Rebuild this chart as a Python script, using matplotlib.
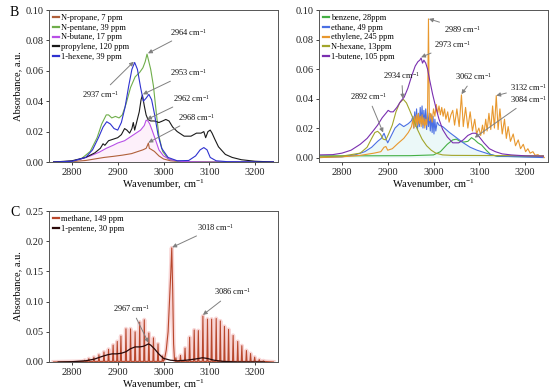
import matplotlib
matplotlib.use("Agg")
import matplotlib.pyplot as plt

plt.rcParams['font.family'] = ['Liberation Serif', 'DejaVu Serif']
plt.rcParams['mathtext.fontset'] = 'custom'
plt.rcParams['mathtext.rm'] = 'Liberation Serif'
plt.rcParams['mathtext.it'] = 'Liberation Serif:italic'
plt.rcParams['mathtext.bf'] = 'Liberation Serif:bold'

# ---------------- Panel B (left top) ----------------
propane_cm = [2760, 2800, 2830, 2850, 2870, 2890, 2910, 2930, 2945, 2955, 2962, 2965, 2967, 2969, 2972, 2980, 2990, 3000, 3015, 3040, 3100, 3240]
propane_abs = [0, 0.0003, 0.001, 0.002, 0.003, 0.0037, 0.0045, 0.0055, 0.007, 0.008, 0.009, 0.011, 0.0125, 0.009, 0.0085, 0.007, 0.004, 0.002, 0.0008, 0.0002, 0, 0]

pentane_cm = [2760, 2800, 2820, 2840, 2855, 2865, 2875, 2880, 2887, 2895, 2903, 2910, 2918, 2928, 2938, 2948, 2955, 2960, 2964, 2968, 2972, 2978, 2984, 2990, 2998, 3010, 3030, 3100, 3240]
pentane_abs = [0, 0.0003, 0.002, 0.007, 0.016, 0.025, 0.031, 0.031, 0.029, 0.030, 0.029, 0.031, 0.038, 0.049, 0.056, 0.059, 0.062, 0.066, 0.071, 0.066, 0.061, 0.050, 0.033, 0.017, 0.007, 0.002, 0.0005, 0, 0]

butane_cm = [2760, 2800, 2820, 2840, 2860, 2875, 2890, 2900, 2915, 2930, 2940, 2950, 2958, 2962, 2966, 2970, 2975, 2982, 2990, 3000, 3015, 3040, 3100, 3240]
butane_abs = [0, 0.0005, 0.002, 0.004, 0.0065, 0.009, 0.011, 0.0125, 0.014, 0.017, 0.019, 0.021, 0.024, 0.0275, 0.027, 0.025, 0.021, 0.015, 0.008, 0.004, 0.0015, 0.0003, 0, 0]

propylene_cm = [2760, 2800, 2830, 2850, 2862, 2868, 2872, 2880, 2890, 2900, 2908, 2915, 2920, 2926, 2931, 2934, 2937, 2942, 2947, 2951, 2954, 2958, 2962, 2966, 2972, 2980, 2990, 2998, 3005, 3012, 3020, 3030, 3045, 3060, 3072, 3082, 3088, 3092, 3097, 3102, 3106, 3112, 3120, 3135, 3150, 3170, 3200, 3240]
propylene_abs = [0, 0.0008, 0.003, 0.006, 0.009, 0.012, 0.011, 0.014, 0.015, 0.016, 0.018, 0.022, 0.021, 0.019, 0.022, 0.026, 0.021, 0.027, 0.033, 0.041, 0.044, 0.037, 0.031, 0.028, 0.027, 0.027, 0.026, 0.027, 0.028, 0.027, 0.023, 0.020, 0.017, 0.017, 0.019, 0.019, 0.020, 0.016, 0.020, 0.021, 0.019, 0.015, 0.010, 0.005, 0.003, 0.0015, 0.0005, 0]

hexene1_cm = [2760, 2800, 2830, 2845, 2858, 2868, 2876, 2884, 2892, 2900, 2908, 2916, 2924, 2931, 2937, 2943, 2950, 2956, 2962, 2968, 2974, 2980, 2988, 2996, 3010, 3030, 3055, 3070, 3080, 3088, 3095, 3102, 3115, 3140, 3240]
hexene1_abs = [0, 0.0005, 0.003, 0.008, 0.016, 0.023, 0.0265, 0.025, 0.022, 0.021, 0.026, 0.036, 0.050, 0.061, 0.0655, 0.061, 0.049, 0.040, 0.042, 0.0445, 0.041, 0.032, 0.018, 0.009, 0.003, 0.0008, 0.001, 0.004, 0.008, 0.0095, 0.008, 0.003, 0.0008, 0.0002, 0]

# ---------------- Right top panel ----------------
benzene_cm = [2750, 2850, 2950, 3000, 3015, 3030, 3042, 3050, 3058, 3066, 3075, 3083, 3090, 3097, 3105, 3115, 3125, 3140, 3240]
benzene_abs = [0.0012, 0.0012, 0.0013, 0.0018, 0.004, 0.009, 0.012, 0.0125, 0.011, 0.0105, 0.011, 0.0135, 0.012, 0.010, 0.0085, 0.005, 0.002, 0.0008, 0.0005]

ethane_cm = [2750, 2800, 2830, 2850, 2865, 2878, 2886, 2892, 2896, 2900, 2908, 2916, 2926, 2935, 2945, 2952,
             2955, 2957, 2959, 2961, 2963, 2965, 2967, 2969, 2971, 2973, 2975, 2977, 2979, 2981, 2983, 2985,
             2987, 2989, 2991, 2993, 2995, 2997, 2999, 3001, 3003, 3005, 3008, 3012,
             3020, 3035, 3050, 3065, 3080, 3095, 3110, 3125, 3140, 3240]
ethane_abs = [0, 0.0005, 0.002, 0.004, 0.007, 0.011, 0.013, 0.0165, 0.013, 0.010, 0.015, 0.020, 0.023, 0.021, 0.023, 0.025,
              0.028, 0.020, 0.031, 0.022, 0.033, 0.019, 0.030, 0.021, 0.034, 0.023, 0.035, 0.020, 0.032, 0.022, 0.033, 0.019,
              0.031, 0.021, 0.030, 0.018, 0.029, 0.017, 0.028, 0.016, 0.026, 0.018, 0.024, 0.022,
              0.021, 0.017, 0.0135, 0.010, 0.007, 0.005, 0.0035, 0.002, 0.001, 0]

ethylene_cm = [2750, 2800, 2840, 2870, 2885, 2892, 2896, 2900, 2910, 2922, 2935, 2945, 2952,
               2955, 2957, 2959, 2961, 2963, 2965, 2967, 2969, 2971, 2973, 2975, 2977, 2979, 2981, 2983, 2985, 2987,
               2989, 2991, 2994, 2997, 3000, 3003, 3006, 3009, 3012, 3015, 3018, 3021, 3024, 3027,
               3031, 3034, 3038, 3042, 3046, 3051, 3056, 3061, 3065, 3070, 3075, 3080, 3085, 3090, 3094,
               3099, 3103, 3107, 3110, 3114, 3117, 3121, 3125, 3129, 3133, 3137, 3141, 3145, 3150, 3155,
               3159, 3163, 3168, 3174, 3179, 3185, 3190, 3196, 3201, 3206, 3211, 3217, 3222, 3228, 3233, 3238, 3242]
ethylene_abs = [0, 0.0005, 0.0015, 0.003, 0.004, 0.007, 0.0075, 0.005, 0.006, 0.0095, 0.013, 0.017, 0.021,
                0.026, 0.020, 0.028, 0.021, 0.029, 0.022, 0.030, 0.023, 0.028, 0.021, 0.029, 0.022, 0.027, 0.020, 0.026, 0.022, 0.030,
                0.094, 0.025, 0.030, 0.024, 0.033, 0.028, 0.036, 0.030, 0.035, 0.029, 0.034, 0.028, 0.033, 0.026,
                0.031, 0.024, 0.029, 0.032, 0.022, 0.033, 0.021, 0.0425, 0.021, 0.034, 0.020, 0.031, 0.018, 0.026, 0.016,
                0.020, 0.015, 0.022, 0.016, 0.026, 0.018, 0.030, 0.019, 0.035, 0.020, 0.042, 0.019, 0.033, 0.016, 0.026,
                0.013, 0.021, 0.011, 0.016, 0.008, 0.012, 0.006, 0.009, 0.004, 0.006, 0.003, 0.004, 0.0015, 0.002, 0.0008, 0.001, 0]

hexane_cm = [2750, 2800, 2840, 2855, 2865, 2872, 2878, 2884, 2890, 2896, 2902, 2910, 2918, 2926, 2934, 2941, 2948, 2956, 2965, 2975, 2985, 2995, 3005, 3020, 3040, 3240]
hexane_abs = [0.0005, 0.001, 0.003, 0.007, 0.013, 0.017, 0.0178, 0.016, 0.0125, 0.012, 0.016, 0.022, 0.031, 0.037, 0.0395, 0.037, 0.032, 0.026, 0.019, 0.0125, 0.008, 0.005, 0.003, 0.0018, 0.0015, 0.0012]

butene1_cm = [2750, 2780, 2800, 2820, 2840, 2855, 2868, 2878, 2888, 2896, 2901, 2906, 2912, 2920, 2928, 2936, 2944, 2952, 2960, 2966, 2970, 2973, 2976, 2979, 2983, 2987, 2992, 2998, 3005, 3012, 3020, 3030, 3042, 3055, 3065, 3075, 3085, 3092, 3100, 3110, 3122, 3135, 3150, 3170, 3200, 3240]
butene1_abs = [0.0018, 0.002, 0.003, 0.005, 0.009, 0.013, 0.018, 0.022, 0.027, 0.030, 0.032, 0.031, 0.031, 0.034, 0.038, 0.041, 0.047, 0.055, 0.062, 0.065, 0.066, 0.0675, 0.064, 0.066, 0.064, 0.060, 0.052, 0.043, 0.034, 0.026, 0.019, 0.014, 0.010, 0.010, 0.012, 0.015, 0.0165, 0.0165, 0.014, 0.010, 0.006, 0.004, 0.0025, 0.0018, 0.0012, 0.001]

# ---------------- Panel C ----------------
methane_P_cm = [2828, 2837, 2848, 2859, 2870, 2880, 2890, 2899, 2907, 2918, 2928, 2938, 2948, 2958, 2968, 2978, 2988, 2998]
methane_P_abs = [0.003, 0.0055, 0.008, 0.012, 0.0166, 0.021, 0.028, 0.034, 0.043, 0.055, 0.055, 0.050, 0.066, 0.070, 0.048, 0.040, 0.030, 0.010]
methane_Q_cm = [3002, 3006, 3010, 3013, 3016, 3018, 3020, 3022, 3024]
methane_Q_abs = [0.004, 0.02, 0.05, 0.10, 0.15, 0.189, 0.12, 0.03, 0.003]
methane_R_cm = [3027, 3037, 3047, 3057, 3067, 3076, 3086, 3096, 3105, 3115, 3124, 3133, 3142, 3152, 3162, 3171, 3181, 3190, 3199, 3209, 3218]
methane_R_abs = [0.007, 0.011, 0.023, 0.041, 0.053, 0.052, 0.076, 0.071, 0.071, 0.072, 0.068, 0.059, 0.054, 0.044, 0.034, 0.027, 0.019, 0.014, 0.008, 0.004, 0.002]
methane_base = 0.001

pentene1_cm = [2770, 2800, 2830, 2850, 2865, 2878, 2888, 2898, 2908, 2918, 2928, 2938, 2948, 2956, 2962, 2967, 2972, 2980, 2990, 3000, 3015, 3030, 3050, 3070, 3085, 3095, 3110, 3130, 3160, 3220]
pentene1_abs = [0, 0.0005, 0.002, 0.005, 0.009, 0.012, 0.0135, 0.0135, 0.0145, 0.017, 0.022, 0.025, 0.025, 0.026, 0.028, 0.030, 0.028, 0.022, 0.013, 0.006, 0.003, 0.002, 0.003, 0.005, 0.007, 0.006, 0.003, 0.001, 0, 0]

xticks = [2800, 2900, 3000, 3100, 3200]


def stick_trace(centers, heights, base, half):
    xs, ys = [], []
    for c, h in zip(centers, heights):
        xs += [c - half, c, c + half]
        ys += [base, h, base]
    return xs, ys


def style(ax, ylim, yticks, ylabel=True):
    ax.set_xlim(2750, 3250)
    ax.set_ylim(*ylim)
    ax.set_xticks(xticks)
    ax.set_yticks(yticks)
    ax.set_yticklabels([f"{v:.2f}" for v in yticks])
    ax.tick_params(direction='out', length=2.5, width=0.6, labelsize=7.5,
                   colors='#222222', pad=1.5, top=False, right=False)
    for s in ax.spines.values():
        s.set_linewidth(0.7)
        s.set_color('#555555')
    ax.set_xlabel("Wavenumber, cm$^{-1}$", fontsize=7.5, labelpad=0.5)
    if ylabel:
        ax.set_ylabel("Absorbance, a.u.", fontsize=7.5, labelpad=2)


def note(ax, text, tip, txt):
    ax.annotate(text, xy=tip, xytext=txt, fontsize=6, ha='left', va='center',
                color='#111111',
                arrowprops=dict(arrowstyle='-|>', color='#808080', lw=0.7,
                                mutation_scale=6, shrinkA=1, shrinkB=0))


def legend(ax):
    leg = ax.legend(loc='upper left', frameon=False, fontsize=6,
                    handlelength=0.7, handletextpad=0.3, labelspacing=0.22,
                    borderaxespad=0.25, borderpad=0.2)
    for h in leg.get_lines():
        h.set_linewidth(1.6)


fig = plt.figure(figsize=(5.5, 3.9), dpi=100)
axB = fig.add_axes([0.0891, 0.5846, 0.4164, 0.3897])
axR = fig.add_axes([0.58, 0.5846, 0.4164, 0.3897])
axC = fig.add_axes([0.0891, 0.0718, 0.4164, 0.387])

lw = 0.8
# Panel B
axB.fill_between(butane_cm, butane_abs, color='#fdf0fa', lw=0, zorder=0)
axB.plot(propane_cm, propane_abs, color='#b0603a', lw=lw, label='N-propane, 7 ppm')
axB.plot(pentane_cm, pentane_abs, color='#6fae4a', lw=lw, label='N-pentane, 39 ppm')
axB.plot(butane_cm, butane_abs, color='#b84fe6', lw=lw, label='N-butane, 17 ppm')
axB.plot(propylene_cm, propylene_abs, color='#1a1a1a', lw=lw, label='propylene, 120 ppm')
axB.plot(hexene1_cm, hexene1_abs, color='#2f32d0', lw=lw, label='1-hexene, 39 ppm')
style(axB, (0, 0.10), [0, 0.02, 0.04, 0.06, 0.08, 0.10])
legend(axB)
note(axB, "2964 cm$^{-1}$", (2966, 0.0715), (3015, 0.0855))
note(axB, "2937 cm$^{-1}$", (2935, 0.066), (2823, 0.0447))
note(axB, "2953 cm$^{-1}$", (2955, 0.0445), (3015, 0.059))
note(axB, "2962 cm$^{-1}$", (2964, 0.028), (3020, 0.042))
note(axB, "2968 cm$^{-1}$", (2967, 0.0128), (3032, 0.0296))

# Right panel
axR.fill_between(ethane_cm, ethane_abs, color='#ebf8f8', lw=0, zorder=0)
axR.plot(benzene_cm, benzene_abs, color='#45b045', lw=lw, label='benzene, 28ppm')
axR.plot(ethane_cm, ethane_abs, color='#4a6fe3', lw=lw, label='ethane, 49 ppm')
axR.plot(ethylene_cm, ethylene_abs, color='#e8982e', lw=lw, label='ethylene, 245 ppm')
axR.plot(hexane_cm, hexane_abs, color='#a2a52b', lw=lw, label='N-hexane, 13ppm')
axR.plot(butene1_cm, butene1_abs, color='#7a2fb0', lw=lw, label='1-butene, 105 ppm')
style(axR, (-0.003, 0.10), [0, 0.02, 0.04, 0.06, 0.08, 0.10], ylabel=False)
legend(axR)
note(axR, "2989 cm$^{-1}$", (2990, 0.094), (3022, 0.087))
note(axR, "2973 cm$^{-1}$", (2973, 0.068), (3000, 0.0768))
note(axR, "2934 cm$^{-1}$", (2933, 0.040), (2890, 0.0553))
note(axR, "2892 cm$^{-1}$", (2890, 0.017), (2817, 0.0413))
note(axR, "3062 cm$^{-1}$", (3061, 0.043), (3048, 0.0548))
note(axR, "3132 cm$^{-1}$", (3137, 0.042), (3168, 0.0477))
note(axR, "3084 cm$^{-1}$", (3090, 0.0135), (3168, 0.0395))

# Panel C
px_, py_ = stick_trace(methane_P_cm, methane_P_abs, methane_base, 1.3)
rx_, ry_ = stick_trace(methane_R_cm, methane_R_abs, methane_base, 1.3)
meth_x = [2760] + px_ + methane_Q_cm + rx_ + [3240]
meth_y = [0] + py_ + methane_Q_abs + ry_ + [0]
axC.plot(meth_x, meth_y, color='#f3b3b3', lw=3.0, alpha=0.55, zorder=1)
axC.plot(meth_x, meth_y, color='#b8472c', lw=0.8, zorder=2, label='methane, 149 ppm')
axC.plot(pentene1_cm, pentene1_abs, color='#2a0a0a', lw=0.9, zorder=3, label='1-pentene, 30 ppm')
style(axC, (0, 0.25), [0, 0.05, 0.10, 0.15, 0.20, 0.25])
legend(axC)
note(axC, "3018 cm$^{-1}$", (3019, 0.19), (3073, 0.2235))
note(axC, "3086 cm$^{-1}$", (3086, 0.078), (3110, 0.116))
note(axC, "2967 cm$^{-1}$", (2967, 0.032), (2890, 0.0884))

fig.text(0.018, 0.967, "B", fontsize=10, va='center', ha='left')
fig.text(0.018, 0.454, "C", fontsize=10, va='center', ha='left')

fig.savefig("out.png", dpi=100)
